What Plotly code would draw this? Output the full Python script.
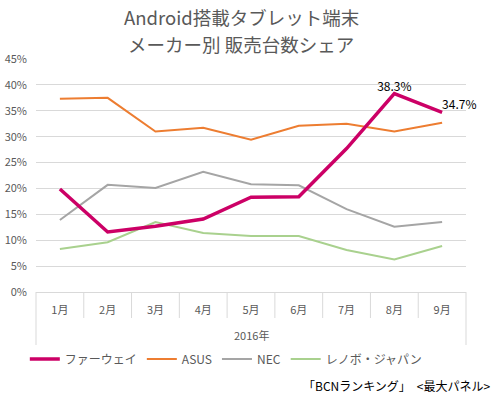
import plotly.graph_objects as go

months = ["1月", "2月", "3月", "4月", "5月", "6月", "7月", "8月", "9月"]
year_label = "2016年"
huawei = [19.9, 11.6, 12.7, 14.1, 18.3, 18.4, 27.7, 38.3, 34.7]
asus = [37.3, 37.5, 31.0, 31.7, 29.4, 32.1, 32.5, 31.0, 32.7]
nec = [13.9, 20.7, 20.1, 23.2, 20.8, 20.6, 16.0, 12.6, 13.5]
lenovo = [8.3, 9.6, 13.5, 11.4, 10.8, 10.8, 8.1, 6.3, 8.9]
series_names = ["ファーウェイ", "ASUS", "NEC", "レノボ・ジャパン"]
colors = ["#CC0066", "#ED7D31", "#A5A5A5", "#A9D18E"]
widths = [3.5, 2, 2, 2]
title_lines = ["Android搭載タブレット端末", "メーカー別 販売台数シェア"]
footer = "「BCNランキング」　<最大パネル>"

FONT = "Noto Sans CJK JP"
GRID = "#d9d9d9"
TXT = "#595959"

labels = ["" for _ in months]
labels[7] = f"{huawei[7]:.1f}%"
labels[8] = f"{huawei[8]:.1f}%"
positions = ["top center"] * 8 + ["top right"]

fig = go.Figure()
fig.add_trace(go.Scatter(x=months, y=asus, name=series_names[1], mode="lines",
                         line=dict(color=colors[1], width=widths[1]), legendrank=2))
fig.add_trace(go.Scatter(x=months, y=nec, name=series_names[2], mode="lines",
                         line=dict(color=colors[2], width=widths[2]), legendrank=3))
fig.add_trace(go.Scatter(x=months, y=lenovo, name=series_names[3], mode="lines",
                         line=dict(color=colors[3], width=widths[3]), legendrank=4))
fig.add_trace(go.Scatter(x=months, y=huawei, name=series_names[0], mode="lines+text",
                         text=labels, textposition=positions, cliponaxis=False,
                         textfont=dict(color="#000000", size=12, family=FONT),
                         line=dict(color=colors[0], width=widths[0]), legendrank=1))

fig.update_layout(
    width=500, height=396,
    margin=dict(l=36, r=34, t=59, b=104, autoexpand=False),
    paper_bgcolor="white", plot_bgcolor="white",
    font=dict(family=FONT, color=TXT, size=11),
    showlegend=True,
    legend=dict(orientation="h", x=-0.026, xanchor="left", y=-0.2876, yanchor="middle",
                font=dict(size=12, color=TXT, family=FONT),
                itemwidth=30, traceorder="normal", bgcolor="rgba(0,0,0,0)"),
    xaxis=dict(type="category", showgrid=False, showline=True,
               linecolor=GRID, linewidth=1, ticks="", ticklabelstandoff=8,
               range=[-0.5, len(months) - 0.5],
               tickfont=dict(size=11, color=TXT), automargin=False),
    yaxis=dict(range=[0, 45], dtick=5, ticksuffix="%", showgrid=True,
               gridcolor=GRID, gridwidth=1, zeroline=False, showline=False,
               ticks="", ticklabelstandoff=8, automargin=False,
               tickfont=dict(size=11, color=TXT)),
)

# category dividers below the axis
shapes = []
for i in range(1, len(months)):
    shapes.append(dict(type="line", xref="x", yref="paper", x0=i - 0.5, x1=i - 0.5,
                       y0=0, y1=-0.1116, line=dict(color=GRID, width=1)))
for xe in (0, 1):
    shapes.append(dict(type="line", xref="paper", yref="paper", x0=xe, x1=xe,
                       y0=0, y1=-0.2275, line=dict(color=GRID, width=1)))
fig.update_layout(shapes=shapes)

fig.add_annotation(text=year_label, xref="paper", yref="paper", x=0.5, y=-0.1845,
                   xanchor="center", yanchor="middle", showarrow=False,
                   font=dict(size=11, color=TXT, family=FONT))
fig.add_annotation(text=title_lines[0], xref="paper", yref="paper", x=0.477, y=1.180,
                   xanchor="center", yanchor="middle", showarrow=False,
                   font=dict(size=18.5, color=TXT, family=FONT))
fig.add_annotation(text=title_lines[1], xref="paper", yref="paper", x=0.477, y=1.064,
                   xanchor="center", yanchor="middle", showarrow=False,
                   font=dict(size=18.5, color=TXT, family=FONT))
fig.add_annotation(text=footer, xref="paper", yref="paper",
                   x=1.063, y=-0.40, xanchor="right", yanchor="middle",
                   showarrow=False, font=dict(size=12, color="#000000", family=FONT))

fig.write_html("out.html", config={"displayModeBar": False},
               post_script="document.body.style.margin='0';")
